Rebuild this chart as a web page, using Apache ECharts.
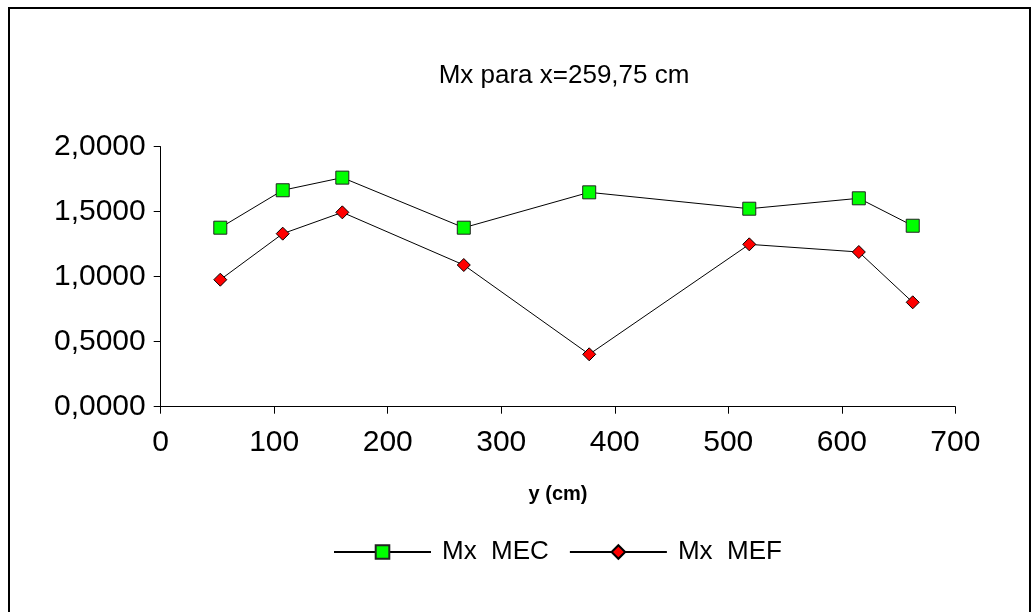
<!DOCTYPE html>
<html>
<head>
<meta charset="utf-8">
<style>
  html, body { margin: 0; padding: 0; background: #fff; }
  #chart { width: 1032px; height: 612px; }
</style>
<script src="https://cdn.jsdelivr.net/npm/echarts@6/dist/echarts.min.js"></script>
</head>
<body>
<div id="chart"></div>
<script>
// Position along the section (cm)
const yPositions = [52.5, 107.5, 160, 267, 377.5, 518.5, 615, 662.5];
// Bending moment Mx, MEC method
const mxMEC = [1.377, 1.665, 1.762, 1.377, 1.649, 1.523, 1.603, 1.392];
// Bending moment Mx, MEF method
const mxMEF = [0.977, 1.331, 1.495, 1.090, 0.403, 1.249, 1.190, 0.803];

const seriesNames = ['Mx  MEC', 'Mx  MEF'];
const titleText = 'Mx para x=259,75 cm';
const xAxisName = 'y (cm)';

const FONT = '"Liberation Sans", Arial, sans-serif';

function pairs(xs, ys) {
  return xs.map((x, i) => [x, ys[i]]);
}

const chart = echarts.init(document.getElementById('chart'), null, { renderer: 'canvas' });

chart.setOption({
  animation: false,
  backgroundColor: '#fff',
  title: {
    text: titleText,
    left: 559,
    textAlign: 'center',
    top: 58,
    textStyle: { fontFamily: FONT, fontSize: 26, fontWeight: 'normal', color: '#000' }
  },
  graphic: [{
    type: 'rect',
    shape: { x: 9, y: 8, width: 1021, height: 700 },
    style: { fill: 'none', stroke: '#000', lineWidth: 2 },
    silent: true
  }],
  legend: {
    left: 328,
    top: 534,
    itemWidth: 97,
    itemHeight: 17,
    itemGap: 20,
    textStyle: { fontFamily: FONT, fontSize: 26, color: '#000', padding: [0, 0, 0, 6] },
    data: seriesNames
  },
  grid: {
    left: 160.7,
    right: 76.7,
    top: 146.7,
    bottom: 205.3,
    containLabel: false
  },
  xAxis: {
    type: 'value',
    min: 0,
    max: 700,
    interval: 100,
    name: xAxisName,
    nameLocation: 'middle',
    nameGap: 78,
    nameTextStyle: { fontFamily: FONT, fontSize: 20, fontWeight: 'bold', color: '#000' },
    axisLine: { show: true, onZero: false, lineStyle: { color: '#000', width: 1 } },
    axisTick: { show: true, inside: false, length: 7, lineStyle: { color: '#000' } },
    axisLabel: { margin: 21, fontFamily: FONT, fontSize: 30, color: '#000' },
    splitLine: { show: false }
  },
  yAxis: {
    type: 'value',
    min: 0,
    max: 2,
    interval: 0.5,
    axisLine: { show: true, lineStyle: { color: '#000', width: 1 } },
    axisTick: { show: true, inside: false, length: 7, lineStyle: { color: '#000' } },
    axisLabel: {
      margin: 15,
      fontFamily: FONT,
      fontSize: 30,
      color: '#000',
      formatter: v => v.toFixed(4).replace('.', ',')
    },
    splitLine: { show: false }
  },
  series: [
    {
      name: seriesNames[0],
      type: 'line',
      data: pairs(yPositions, mxMEC),
      symbol: 'rect',
      symbolSize: 13,
      showAllSymbol: true,
      lineStyle: { color: '#000', width: 1 },
      itemStyle: { color: '#00ff00', borderColor: '#222', borderWidth: 1 },
      z: 2
    },
    {
      name: seriesNames[1],
      type: 'line',
      data: pairs(yPositions, mxMEF),
      symbol: 'diamond',
      symbolSize: 13,
      showAllSymbol: true,
      lineStyle: { color: '#000', width: 1 },
      itemStyle: { color: '#ff0000', borderColor: '#000', borderWidth: 1 },
      z: 3
    }
  ]
});
</script>
</body>
</html>
